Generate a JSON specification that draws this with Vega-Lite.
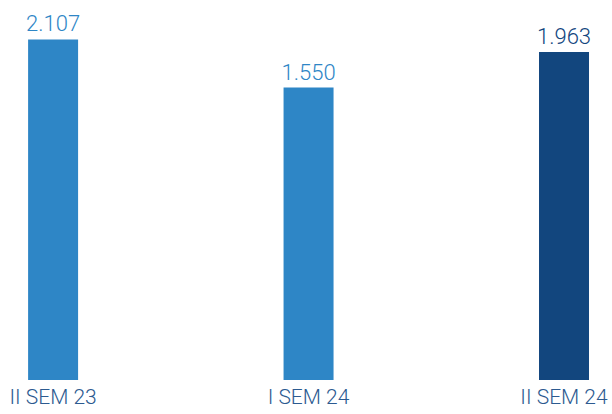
{
  "$schema": "https://vega.github.io/schema/vega-lite/v6.json",
  "width": 612,
  "height": 380,
  "autosize": {"type": "none"},
  "padding": {"left": 0, "top": 0, "right": 0, "bottom": 34},
  "background": "white",
  "config": {"view": {"stroke": null}, "font": "Roboto"},
  "data": {
    "values": [
      {"period": "II SEM 23", "value": 2107, "label": "2.107"},
      {"period": "I SEM 24", "value": 1550, "label": "1.550"},
      {"period": "II SEM 24", "value": 1963, "label": "1.963"}
    ]
  },
  "encoding": {
    "x": {
      "field": "period",
      "type": "nominal",
      "sort": null,
      "scale": {"paddingInner": 0.8043, "paddingOuter": 0.1, "align": 0.55},
      "axis": {
        "title": null,
        "domain": false,
        "ticks": false,
        "labelAngle": 0,
        "labelFontSize": 21,
        "labelFont": "Roboto",
        "labelFontWeight": 300,
        "labelColor": "#2c5a90",
        "labelPadding": 6
      }
    },
    "y": {
      "field": "value",
      "type": "quantitative",
      "scale": {"domain": [-1835, 2564], "zero": false, "nice": false},
      "axis": null
    }
  },
  "layer": [
    {
      "mark": {"type": "bar"},
      "encoding": {
        "y2": {"datum": -1835},
        "color": {
          "field": "period",
          "type": "nominal",
          "scale": {"domain": ["II SEM 23", "I SEM 24", "II SEM 24"], "range": ["#2e86c6", "#2e86c6", "#12467e"]},
          "legend": null
        }
      }
    },
    {
      "mark": {"type": "text", "baseline": "alphabetic", "dy": -8, "fontSize": 22, "font": "Roboto", "fontWeight": 300},
      "encoding": {
        "text": {"field": "label"},
        "color": {
          "field": "period",
          "type": "nominal",
          "scale": {"domain": ["II SEM 23", "I SEM 24", "II SEM 24"], "range": ["#5a9fd6", "#5a9fd6", "#2f5d94"]},
          "legend": null
        }
      }
    }
  ]
}
